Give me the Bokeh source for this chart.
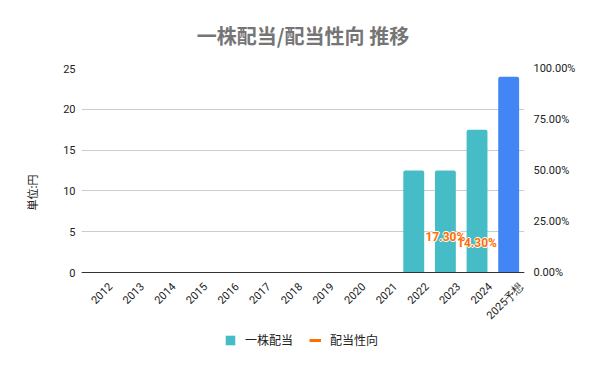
import math
from bokeh.plotting import figure
from bokeh.models import (ColumnDataSource, Range1d, LinearAxis, FixedTicker, Title,
                          NumeralTickFormatter, LabelSet, Legend, LegendItem, Span)
from bokeh.core.properties import value
from bokeh.embed import file_html
from bokeh.resources import INLINE

# ---- data ----
years = ["2012", "2013", "2014", "2015", "2016", "2017", "2018", "2019",
         "2020", "2021", "2022", "2023", "2024", "2025予想"]
dividend = [None, None, None, None, None, None, None, None, None, None,
            12.5, 12.5, 17.5, 24]
payout = [None, None, None, None, None, None, None, None, None, None,
          None, 0.173, 0.143, None]
forecast = [False] * 13 + [True]
pct_ticks = [0, 0.25, 0.5, 0.75, 1.0]
div_ticks = [0, 5, 10, 15, 20, 25]

TEAL = "#46bdc6"
BLUE = "#4285f4"
ORANGE = "#ff6d01"
FONT = "Roboto"
JFONT = "Noto Sans CJK JP"

W, H = 584, 355
FL, FT, FR = 81, 68, 524    # frame edges (px)
FZ = 272                    # pixel row of the value 0
FBOT = 350                  # frame bottom (px); frame extends below 0 to hold labels/legend

idx = list(range(len(years)))
colors = [BLUE if f else TEAL for f in forecast]
bar_src = ColumnDataSource(dict(x=idx, year=years,
                                top=[float("nan") if v is None else v for v in dividend],
                                color=colors))

ymax = max(div_ticks)
y_start = -ymax * (FBOT - FZ) / (FZ - FT)
p_start = -max(pct_ticks) * (FBOT - FZ) / (FZ - FT)

p = figure(x_range=Range1d(-0.5, len(years) - 0.5), y_range=Range1d(y_start, ymax),
           width=W, height=H, output_backend="svg", toolbar_location=None,
           min_border_left=FL, min_border_right=W - FR, min_border_top=FT,
           min_border_bottom=H - FBOT)
p.outline_line_color = None
p.background_fill_color = "white"
p.border_fill_color = "white"

p.title.text = "一株配当/配当性向 推移"
p.title.align = "center"
p.title.vertical_align = "middle"
p.title.text_font = JFONT
p.title.text_font_size = "20px"
p.title.text_font_style = "bold"
p.title.text_color = "#757575"
p.title.standoff = 36

p.extra_y_ranges = {"pct": Range1d(p_start, max(pct_ticks))}

bars = p.vbar(x="x", top="top", width=0.66, source=bar_src, fill_color="color",
              line_color=None, border_radius=(2, 2, 0, 0))

# legend-only line renderer (no visible segment)
line_r = p.line(x=[float("nan")], y=[float("nan")], line_color=ORANGE, line_width=3,
                y_range_name="pct")

# axes
p.xaxis.visible = False
p.xgrid.grid_line_color = None
p.ygrid.grid_line_color = "#cccccc"
p.ygrid.grid_line_width = 1

p.yaxis.ticker = FixedTicker(ticks=div_ticks)
p.yaxis.axis_line_color = None
p.yaxis.major_tick_line_color = None
p.yaxis.minor_tick_line_color = None
p.yaxis.major_tick_in = 0
p.yaxis.major_tick_out = 0
p.yaxis.major_label_standoff = 6
p.yaxis.major_label_text_font = FONT
p.yaxis.major_label_text_font_size = "11px"
p.yaxis.major_label_text_color = "#222222"

ax2 = LinearAxis(y_range_name="pct", ticker=FixedTicker(ticks=pct_ticks),
                 formatter=NumeralTickFormatter(format="0.00%"))
ax2.axis_line_color = None
ax2.major_tick_line_color = None
ax2.minor_tick_line_color = None
ax2.major_tick_in = 0
ax2.major_tick_out = 0
ax2.major_label_standoff = 9
ax2.major_label_text_font = FONT
ax2.major_label_text_font_size = "11px"
ax2.major_label_text_color = "#222222"
p.add_layout(ax2, "right")

p.add_layout(Span(location=0, dimension="width", line_color="#333333", line_width=1))

# left axis title (unit)
p.add_layout(Title(text="単位:円", align="left", vertical_align="middle", offset=140,
                   standoff=40, text_font=JFONT, text_font_size="11px",
                   text_font_style="normal", text_color="#222222"), "left")

# rotated year labels under the zero line
xl_src = ColumnDataSource(dict(x=idx, y=[0] * len(idx), t=years))
p.add_layout(LabelSet(x="x", y="y", text="t", source=xl_src, angle=math.pi / 4,
                      text_align="right", text_baseline="middle",
                      x_offset=13, y_offset=-12, text_font=value(FONT),
                      text_font_size="11px", text_color="#222222"))

# payout labels
px = [i for i, v in zip(idx, payout) if v is not None]
pv = [v for v in payout if v is not None]
pl_src = ColumnDataSource(dict(x=px, y=pv, t=["%.2f%%" % (v * 100) for v in pv]))
for dx, dy in [(-1, 0), (1, 0), (0, -1), (0, 1)]:
    p.add_layout(LabelSet(x="x", y="y", text="t", source=pl_src, y_range_name="pct",
                          text_align="center", text_baseline="middle",
                          x_offset=dx, y_offset=dy, text_font=value(FONT),
                          text_font_style="bold", text_font_size="12px",
                          text_color="white"))
p.add_layout(LabelSet(x="x", y="y", text="t", source=pl_src, y_range_name="pct",
                      text_align="center", text_baseline="middle",
                      text_font=value(FONT), text_font_style="bold", text_font_size="12px",
                      text_color=ORANGE))

legend = Legend(items=[LegendItem(label="一株配当", renderers=[bars], index=0),
                       LegendItem(label="配当性向", renderers=[line_r])],
                location=(143, 2), orientation="horizontal",
                glyph_width=12, glyph_height=12, label_standoff=9, spacing=16,
                label_text_font=JFONT, label_text_font_size="12px",
                label_text_color="#222222", border_line_color=None,
                background_fill_alpha=0, padding=0, margin=0)
p.add_layout(legend, "center")

open("out.html", "w").write(file_html(p, INLINE))
